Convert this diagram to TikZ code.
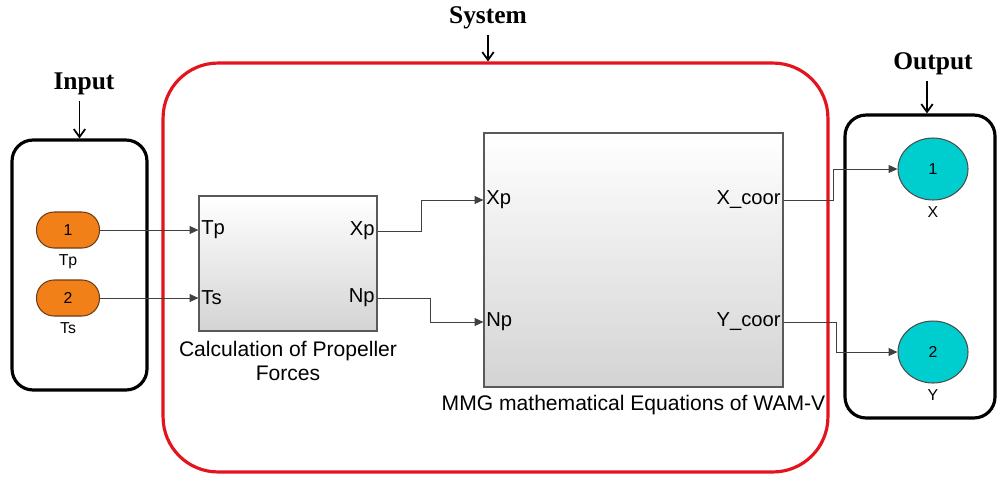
\documentclass[tikz,border=0pt]{standalone}
\usepackage{fontspec}
\setmainfont{Liberation Sans}
\newfontfamily\headfont{Liberation Serif}
\usetikzlibrary{positioning,arrows.meta,shapes.geometric}

\definecolor{inport}{RGB}{242,128,25}
\definecolor{inportline}{RGB}{110,60,20}
\definecolor{outport}{RGB}{0,205,205}
\definecolor{sysred}{RGB}{228,20,30}

\begin{document}
\begin{tikzpicture}[x=0.02cm, y=-0.02cm,
  wire/.style={draw=black!75, line width=0.5pt, -{Triangle[length=5pt,width=4.5pt]}},
  group/.style={draw, line width=1.8pt, rounded corners=0.42cm},
  head/.style={font=\headfont\bfseries\fontsize{14.5}{16}\selectfont},
  pointer/.style={line width=1pt, -{Straight Barb[length=4.5pt,width=6.5pt]}},
  block/.style={draw=black!65, line width=0.7pt, top color=white,
    middle color=white, bottom color=black!17, inner sep=0},
  inpill/.style={rectangle, rounded corners=0.35cm, draw=inportline, fill=inport,
    line width=0.6pt, minimum width=1.26cm, minimum height=0.72cm,
    font=\fontsize{9}{10}\selectfont},
  outdisc/.style={ellipse, draw=black!70, fill=outport, line width=0.6pt,
    minimum width=1.4cm, minimum height=1.24cm, font=\fontsize{9}{10}\selectfont},
  small/.style={font=\fontsize{9}{10}\selectfont},
  portlbl/.style={font=\fontsize{11.5}{12}\selectfont, inner sep=1.5pt},
  caption/.style={font=\fontsize{12}{13.6}\selectfont, align=center}]
  \useasboundingbox (0,0) rectangle (997,478);

  % input side
  \node[group, minimum width=2.7cm, minimum height=5cm] (inbox) at (79.5,265) {};
  \node[head] (inlbl) at (84,84) {Input};
  \draw[pointer] (inbox.north |- inlbl.south) -- (inbox.north);
  \node[inpill] (in1) at (68,230) {1};
  \node[small, below=0pt of in1] (in1lbl) {Tp};
  \node[inpill] (in2) at (68,298) {2};
  \node[small, below=0pt of in2] (in2lbl) {Ts};

  % propeller block
  \node[block, minimum width=3.56cm, minimum height=2.7cm] (prop) at (288,263.5) {};
  \node[caption, below=2pt of prop] (propcap) {Calculation of Propeller\\Forces};
  \coordinate (propTp) at (prop.west |- in1);
  \coordinate (propTs) at (prop.west |- in2);
  \coordinate (propXp) at (prop.east |- 0,231);
  \coordinate (propNp) at (prop.east |- 0,298);
  \node[portlbl, anchor=west] at (propTp) {Tp};
  \node[portlbl, anchor=west] at (propTs) {Ts};
  \node[portlbl, anchor=east] at (propXp) {Xp};
  \node[portlbl, anchor=east] at (propNp) {Np};

  % MMG block
  \node[block, minimum width=5.98cm, minimum height=5.08cm] (mmg) at (633.5,260) {};
  \node[caption, below=1pt of mmg] (mmgcap) {MMG mathematical Equations of WAM-V};
  \coordinate (mmgXp) at (mmg.west |- 0,200);
  \coordinate (mmgNp) at (mmg.west |- 0,322);
  \coordinate (mmgX) at (mmg.east |- 0,200);
  \coordinate (mmgY) at (mmg.east |- 0,322);
  \node[portlbl, anchor=west] at (mmgXp) {Xp};
  \node[portlbl, anchor=west] at (mmgNp) {Np};
  \node[portlbl, anchor=east] at (mmgX) {X\_coor};
  \node[portlbl, anchor=east] at (mmgY) {Y\_coor};

  % system frame
  \node[group, draw=sysred, rounded corners=1.1cm, minimum width=13.3cm,
    minimum height=8.18cm] (sysbox) at (495.5,267.5) {};
  \node[head] (syslbl) at (488,18) {System};
  \draw[pointer] (syslbl.south) -- (syslbl.south |- sysbox.north);

  % output side
  \node[group, minimum width=3cm, minimum height=6.06cm] (outbox) at (920,266.5) {};
  \node[head] (outlbl) at (933,64) {Output};
  \draw[pointer] (outlbl.south -| 927,0) -- (outbox.north -| 927,0);
  \node[outdisc] (out1) at (933,169) {1};
  \node[small, below=0pt of out1] (out1lbl) {X};
  \node[outdisc] (out2) at (933,352) {2};
  \node[small, below=0pt of out2] (out2lbl) {Y};

  % signal lines
  \draw[wire] (in1) -- (propTp);
  \draw[wire] (in2) -- (propTs);
  \draw[wire] (propXp) -- ++(44,0) |- (mmgXp);
  \draw[wire] (propNp) -- ++(53,0) |- (mmgNp);
  \draw[wire] (mmgX) -- ++(50,0) |- (out1);
  \draw[wire] (mmgY) -- ++(53,0) |- (out2);
\end{tikzpicture}
\end{document}
